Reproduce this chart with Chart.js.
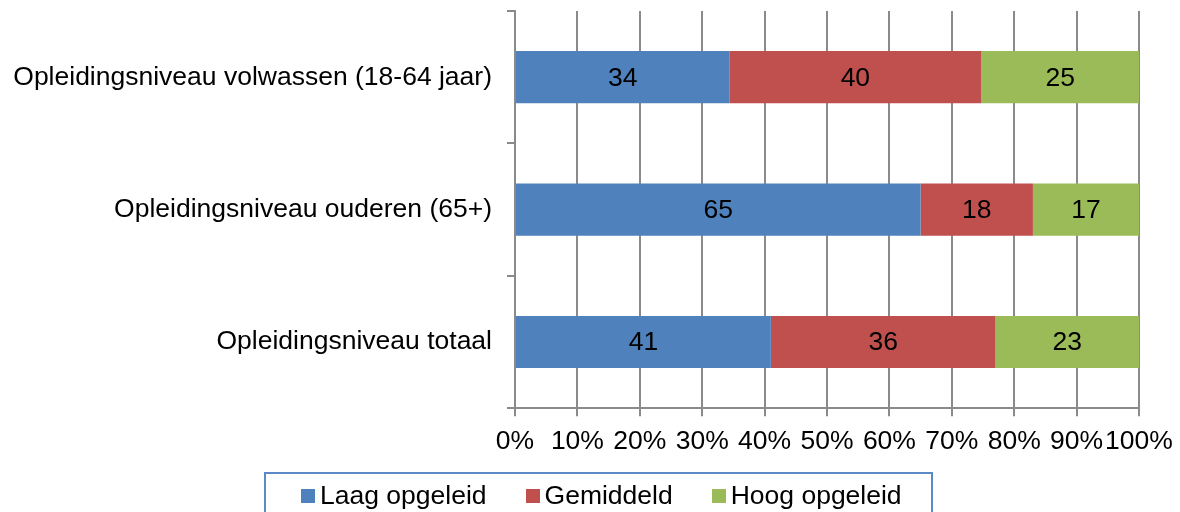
<!DOCTYPE html>
<html>
<head>
<meta charset="utf-8">
<script src="https://cdn.jsdelivr.net/npm/chart.js@4/dist/chart.umd.min.js"></script>
<style>
  html, body { margin: 0; padding: 0; background: #fff; }
  #wrap { position: relative; width: 1180px; height: 512px; overflow: hidden; }
  #legend {
    position: absolute; left: 264px; top: 472px; width: 669px; height: 60px;
    border: 2px solid #5b8bc6; box-sizing: border-box;
    font: 26.5px "Liberation Sans", Arial, sans-serif; color: #000;
    display: flex; align-items: flex-start; padding: 6px 0 0 35px;
    white-space: nowrap;
  }
  #legend .item { display: flex; align-items: center; margin-right: 39px; flex-shrink: 0; }
  #legend .box { width: 14px; height: 14px; margin-right: 5px; }
</style>
</head>
<body>
<div id="wrap">
  <canvas id="chart" width="1180" height="512"></canvas>
  <div id="legend"></div>
</div>
<script>
// categorieen (van boven naar onder)
const categories = [
  'Opleidingsniveau volwassen (18-64 jaar)',
  'Opleidingsniveau ouderen (65+)',
  'Opleidingsniveau totaal'
];
const seriesNames = ['Laag opgeleid', 'Gemiddeld', 'Hoog opgeleid'];
const laag = [34, 65, 41];
const gemiddeld = [40, 18, 36];
const hoog = [25, 17, 23];
const colors = ['#4f81bd', '#c0504d', '#9bbb59'];
const xTicks = [0, 10, 20, 30, 40, 50, 60, 70, 80, 90, 100];

const raw = [laag, gemiddeld, hoog];
// 100% gestapeld: elk segment als aandeel van het rijtotaal
const totals = categories.map((c, i) => laag[i] + gemiddeld[i] + hoog[i]);

const grey = '#8a8a8a';
const font = { family: '"Liberation Sans", Arial, sans-serif', size: 26.5 };

// waarden in het midden van elk segment
const barLabels = {
  id: 'barLabels',
  afterDatasetsDraw(chart) {
    const ctx = chart.ctx;
    ctx.save();
    ctx.font = '26.5px "Liberation Sans", Arial, sans-serif';
    ctx.fillStyle = '#000';
    ctx.textAlign = 'center';
    ctx.textBaseline = 'middle';
    chart.data.datasets.forEach((ds, di) => {
      chart.getDatasetMeta(di).data.forEach((el, i) => {
        const p = el.getProps(['x', 'y', 'base'], true);
        ctx.fillText(ds.rawValues[i], (p.x + p.base) / 2, p.y + 1);
      });
    });
    ctx.restore();
  }
};

const chart = new Chart(document.getElementById('chart'), {
  type: 'bar',
  data: {
    labels: categories,
    datasets: raw.map((vals, s) => ({
      label: seriesNames[s],
      rawValues: vals,
      data: vals.map((v, i) => v / totals[i] * 100),
      backgroundColor: colors[s],
      borderWidth: 0,
      categoryPercentage: 1,
      barPercentage: 0.394
    }))
  },
  options: {
    indexAxis: 'y',
    responsive: false,
    animation: false,
    layout: { padding: { top: 11, right: 41, bottom: 44, left: 10 } },
    plugins: {
      legend: { display: false },
      tooltip: { enabled: false }
    },
    scales: {
      x: {
        stacked: true,
        min: 0,
        max: 100,
        afterBuildTicks: s => { s.ticks = xTicks.map(v => ({ value: v })); },
        afterFit: s => { s.paddingLeft = 0; s.paddingRight = 0; },
        ticks: {
          callback: v => v + '%',
          font: font,
          color: '#000',
          padding: 10,
          maxRotation: 0,
          autoSkip: false
        },
        grid: { color: grey, lineWidth: 2, tickLength: 8 },
        border: { color: grey, width: 2 }
      },
      y: {
        stacked: true,
        afterFit: s => { s.width = 505; s.paddingTop = 0; s.paddingBottom = 0; },
        ticks: { font: font, color: '#000', padding: 15 },
        grid: { drawOnChartArea: false, color: grey, lineWidth: 2, tickLength: 8 },
        border: { color: grey, width: 2 }
      }
    }
  },
  plugins: [barLabels]
});

// legenda onder de grafiek
const legend = document.getElementById('legend');
chart.data.datasets.forEach(ds => {
  const item = document.createElement('div');
  item.className = 'item';
  item.innerHTML = `<span class="box" style="background:${ds.backgroundColor}"></span><span>${ds.label}</span>`;
  legend.appendChild(item);
});
</script>
</body>
</html>
